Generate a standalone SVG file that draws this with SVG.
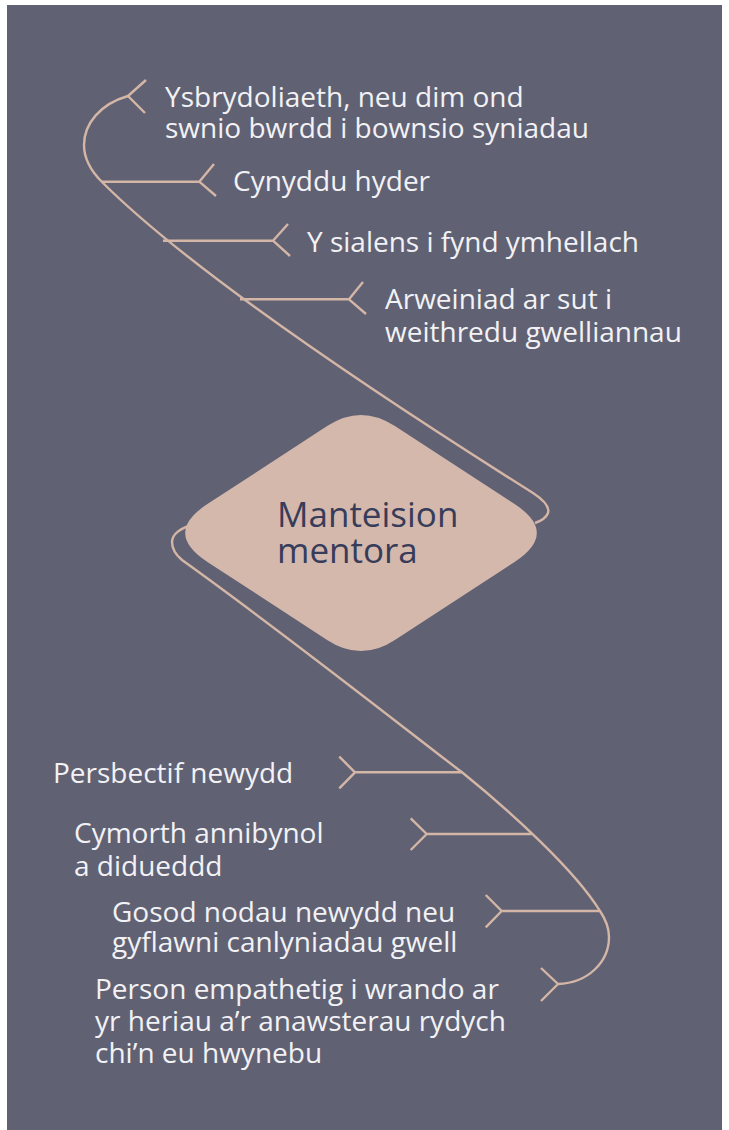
<svg xmlns="http://www.w3.org/2000/svg" width="729" height="1130" viewBox="0 0 729 1130">
  <style>
    .ln { fill: none; stroke: #d4b6a6; stroke-width: 2.4; stroke-linecap: butt; stroke-linejoin: round; }
    .lbl { font-family: "Open Sans", "Noto Sans", sans-serif; font-size: 28px; fill: #f2f2f4; }
    .ctr { font-family: "Open Sans", "Noto Sans", sans-serif; font-size: 35px; fill: #363c5a; }
  </style>
  <rect x="7" y="5" width="715" height="1125" fill="#616174"/>

  <g id="connectors">
    <path class="ln" d="M128,96 C100,104 84,124 84,145 C84,160 91,171 102,182 C192,272 383,398.5 533,493 C543,499.5 550,506 548,513 C546,518 541,521 535,523"/>
    <path class="ln" d="M146,80 L128,96 L145,113"/>
    <path class="ln" d="M102,181.7 H199.3 M214,164 L199.3,181.7 L216,196"/>
    <path class="ln" d="M163,240.7 H273 M288,224 L273,240.7 L290,256"/>
    <path class="ln" d="M240,299.3 H349 M363,282 L349,299.3 L366,314"/>
    <path class="ln" d="M192,525 C181,528 172,534 172,542 C172,549 176,555 182,560 C280,630 410,732.6 462,772.3 C510,811 575,870 600,911 C606,920 609,928 609,937 C609,962 588,983 558,984"/>
    <path class="ln" d="M541,968 L558,984 L541,1001"/>
    <path class="ln" d="M461.7,772.3 H355 M339.3,756.7 L355,772.3 L339.3,788.3"/>
    <path class="ln" d="M531.7,834 H426.7 M410.7,818.3 L426.7,834 L410.7,850"/>
    <path class="ln" d="M600,911 H501.7 M485.7,895 L501.7,911 L485.7,927.3"/>
  </g>

  <g id="center">
    <path d="M327.5,425.8 Q361,404 394.5,425.8 L514.6,504.1 Q559,533 514.6,561.9 L394.5,640.2 Q361,662 327.5,640.2 L207.4,561.9 Q163,533 207.4,504.1 Z" fill="#d4b8ac"/>
    <text class="ctr" x="277" y="527">Manteision<tspan x="277" y="563">mentora</tspan></text>
  </g>

  <g id="n1">
    <text class="lbl" x="165" y="107">Ysbrydoliaeth, neu dim ond<tspan x="165" y="138">swnio bwrdd i bownsio syniadau</tspan></text>
  </g>
  <g id="n2">
    <text class="lbl" x="233" y="191">Cynyddu hyder</text>
  </g>
  <g id="n3">
    <text class="lbl" x="307" y="252">Y sialens i fynd ymhellach</text>
  </g>
  <g id="n4">
    <text class="lbl" x="385" y="309">Arweiniad ar sut i<tspan x="385" y="342">weithredu gwelliannau</tspan></text>
  </g>
  <g id="n5">
    <text class="lbl" x="53" y="783">Persbectif newydd</text>
  </g>
  <g id="n6">
    <text class="lbl" x="74" y="843">Cymorth annibynol<tspan x="74" y="876">a didueddd</tspan></text>
  </g>
  <g id="n7">
    <text class="lbl" x="112" y="922">Gosod nodau newydd neu<tspan x="112" y="952">gyflawni canlyniadau gwell</tspan></text>
  </g>
  <g id="n8">
    <text class="lbl" x="95" y="999">Person empathetig i wrando ar<tspan x="95" y="1031">yr heriau a’r anawsterau rydych</tspan><tspan x="95" y="1063">chi’n eu hwynebu</tspan></text>
  </g>
</svg>
